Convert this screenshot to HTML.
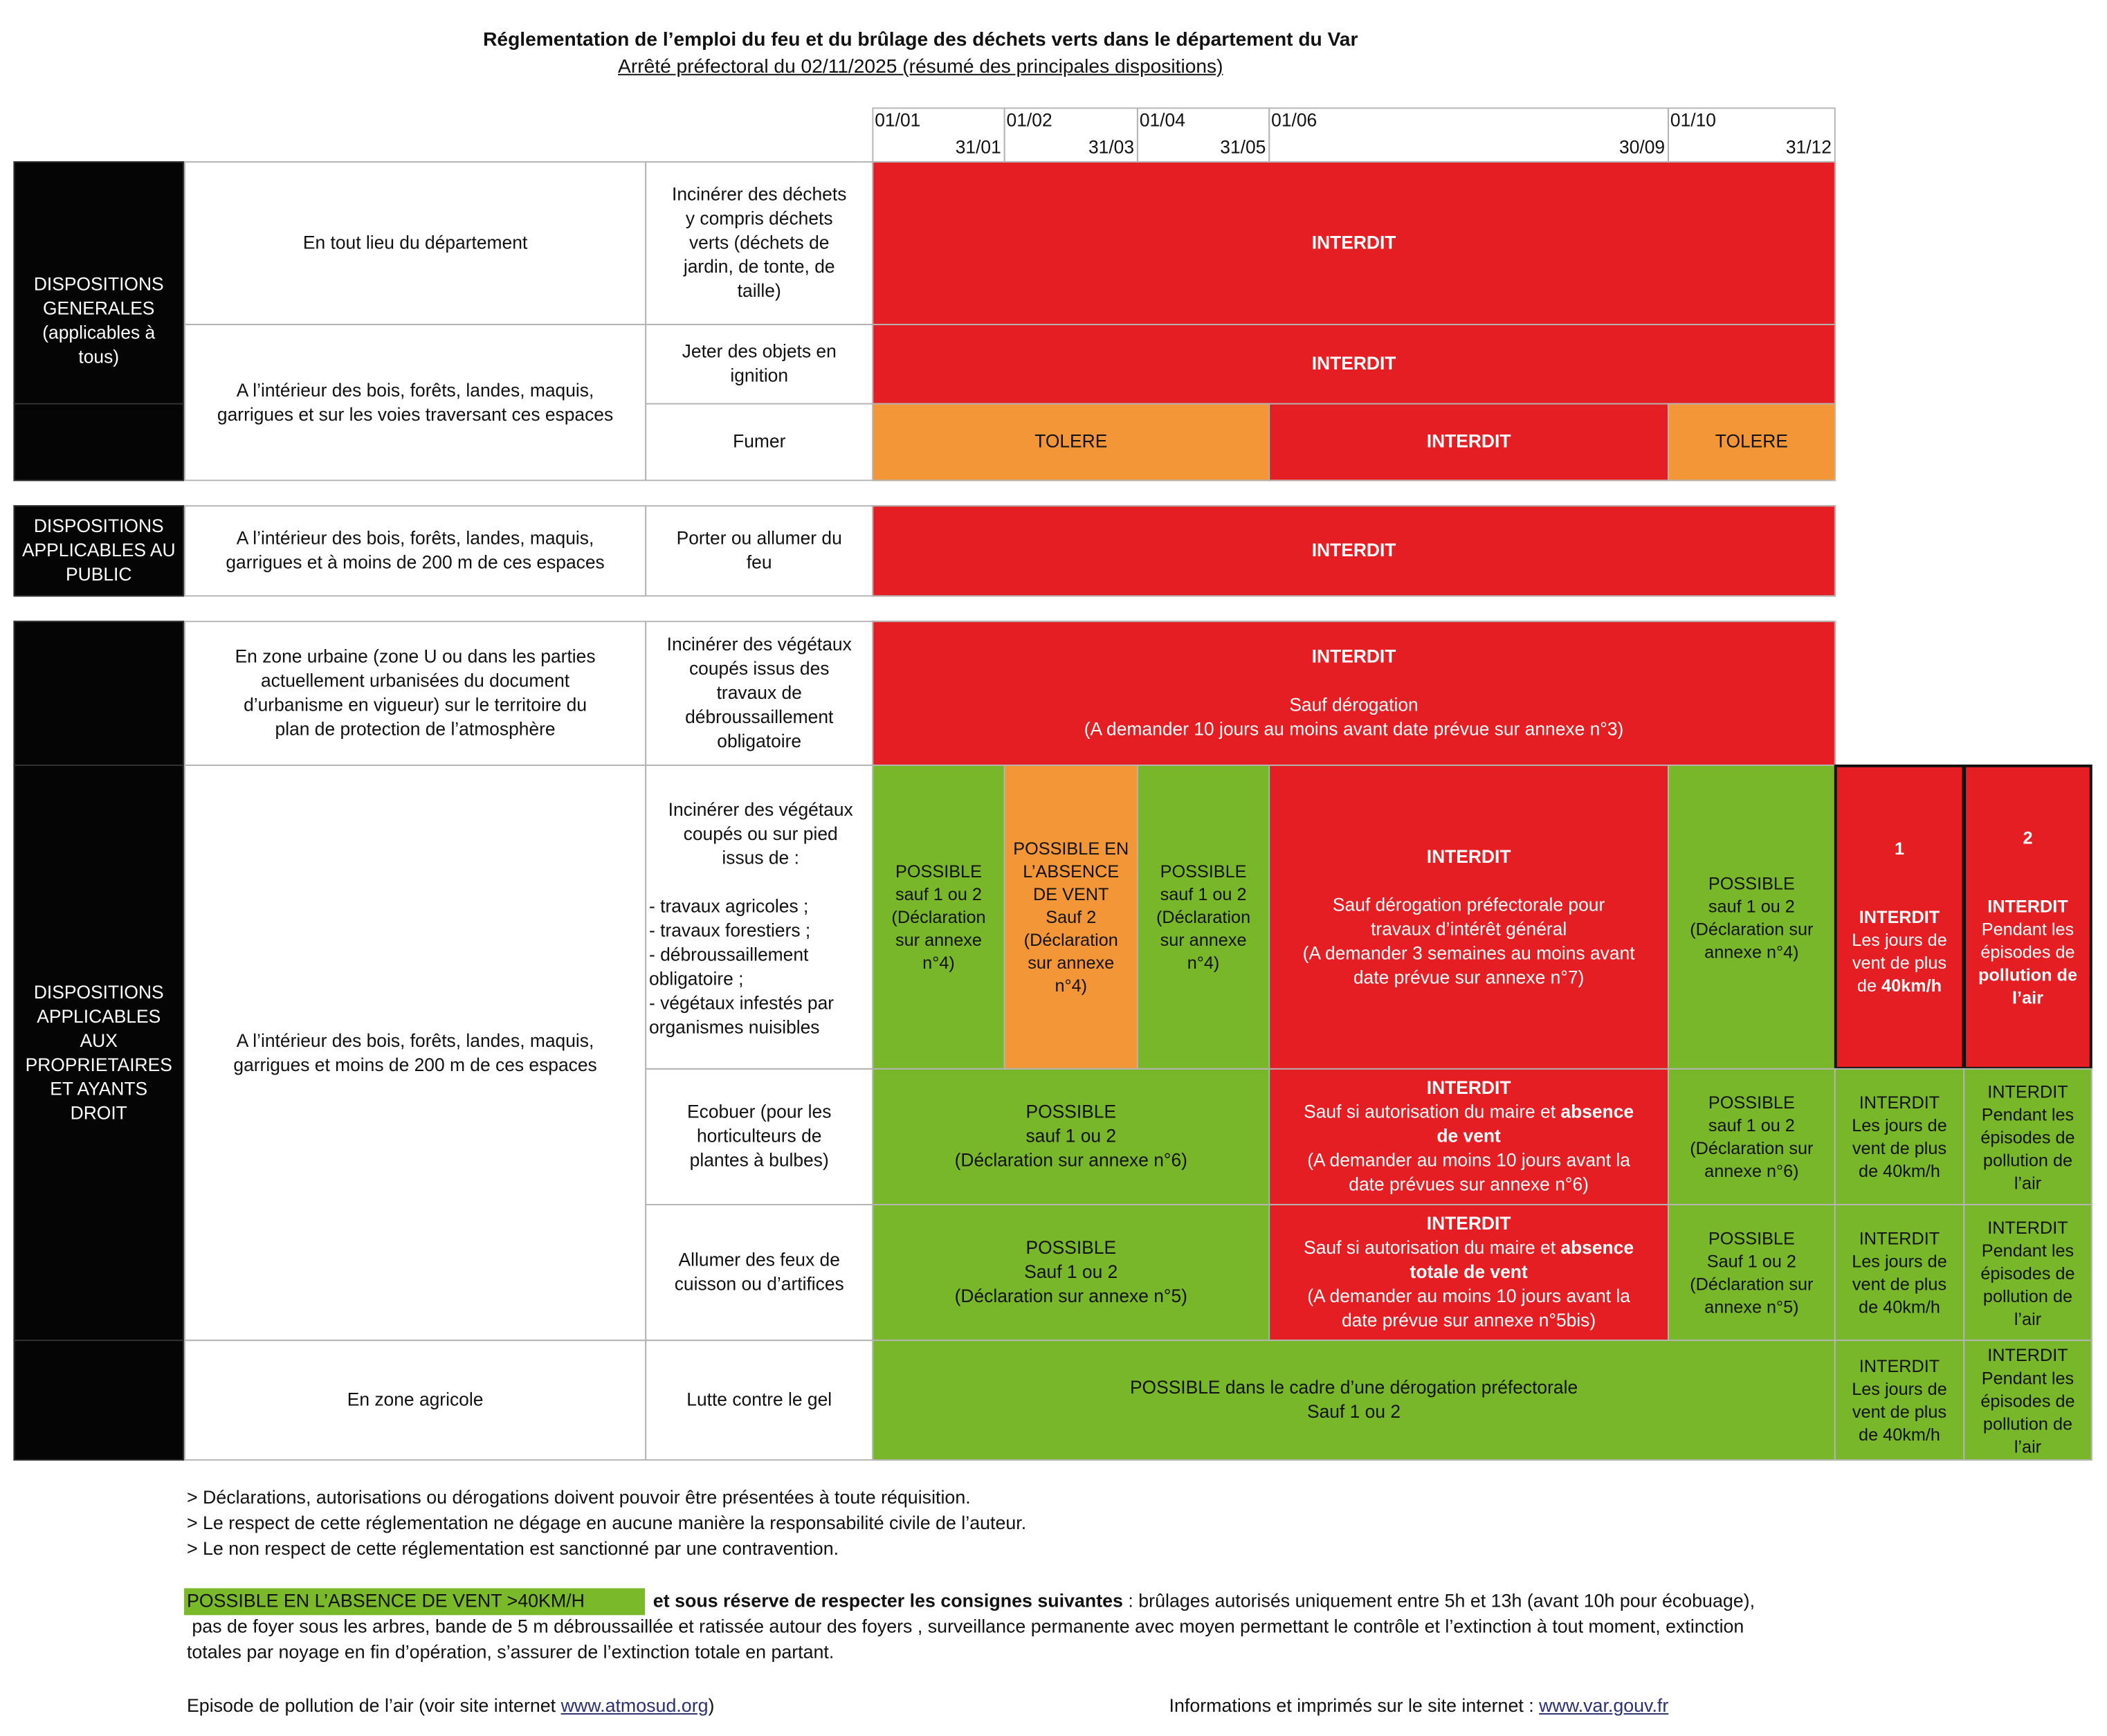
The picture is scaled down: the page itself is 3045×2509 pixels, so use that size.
<!DOCTYPE html>
<html><head><meta charset="utf-8">
<style>
html,body{margin:0;padding:0;background:#fff;}
body{width:3045px;height:2509px;overflow:hidden;position:relative;}
#w{position:absolute;left:0;top:0;width:1568px;height:1292px;transform:scale(1.9420);transform-origin:0 0;font-family:"Liberation Sans",sans-serif;font-size:13.6px;line-height:18px;color:#111;}
.c{position:absolute;box-sizing:border-box;border:1px solid #b5b5b5;display:flex;align-items:center;justify-content:center;text-align:center;}
.k{background:#050505;color:#fff;border-color:#333;}
.r{background:#e41e22;color:#fff;}
.o{background:#f29638;color:#111;}
.g{background:#78b72a;color:#111;}
.bb{border:2px solid #111;}
.t{position:absolute;white-space:nowrap;}
b{font-weight:bold;}
.lbl{position:absolute;font-size:13.6px;}
</style></head><body><div id="w">
<div class="t" style="left:0;width:1370px;top:21px;text-align:center;font-weight:bold;font-size:14.5px;">Réglementation de l’emploi du feu et du brûlage des déchets verts dans le département du Var</div>
<div class="t" style="left:0;width:1370px;top:41px;text-align:center;font-size:14.5px;text-decoration:underline;">Arrêté préfectoral du 02/11/2025 (résumé des principales dispositions)</div>

<div class="c" style="left:649px;top:80px;width:99px;height:41px;"></div>
<div class="c" style="left:747px;top:80px;width:100px;height:41px;"></div>
<div class="c" style="left:846px;top:80px;width:99px;height:41px;"></div>
<div class="c" style="left:944px;top:80px;width:298px;height:41px;"></div>
<div class="c" style="left:1241px;top:80px;width:125px;height:41px;"></div>
<div class="lbl" style="left:651px;top:81px;">01/01</div>
<div class="lbl" style="left:749px;top:81px;">01/02</div>
<div class="lbl" style="left:848px;top:81px;">01/04</div>
<div class="lbl" style="left:946px;top:81px;">01/06</div>
<div class="lbl" style="left:1243px;top:81px;">01/10</div>
<div class="lbl" style="left:697px;width:48px;text-align:right;top:101px;">31/01</div>
<div class="lbl" style="left:795px;width:49px;text-align:right;top:101px;">31/03</div>
<div class="lbl" style="left:893px;width:49px;text-align:right;top:101px;">31/05</div>
<div class="lbl" style="left:1190px;width:49px;text-align:right;top:101px;">30/09</div>
<div class="lbl" style="left:1314px;width:49px;text-align:right;top:101px;">31/12</div>

<div class="c k" style="left:10px;top:120px;width:127px;height:181px;"><div style="margin-top:56px;">DISPOSITIONS<br>GENERALES<br>(applicables à<br>tous)</div></div>
<div class="c k" style="left:10px;top:300px;width:127px;height:58px;"></div>
<div class="c" style="left:137px;top:120px;width:344px;height:122px;">En tout lieu du département</div>
<div class="c" style="left:137px;top:241px;width:344px;height:117px;">A l’intérieur des bois, forêts, landes, maquis,<br>garrigues et sur les voies traversant ces espaces</div>
<div class="c" style="left:480px;top:120px;width:170px;height:122px;">Incinérer des déchets<br>y compris déchets<br>verts (déchets de<br>jardin, de tonte, de<br>taille)</div>
<div class="c" style="left:480px;top:241px;width:170px;height:60px;">Jeter des objets en<br>ignition</div>
<div class="c" style="left:480px;top:300px;width:170px;height:58px;">Fumer</div>
<div class="c r" style="left:649px;top:120px;width:717px;height:122px;"><b>INTERDIT</b></div>
<div class="c r" style="left:649px;top:241px;width:717px;height:60px;"><b>INTERDIT</b></div>
<div class="c o" style="left:649px;top:300px;width:296px;height:58px;">TOLERE</div>
<div class="c r" style="left:944px;top:300px;width:298px;height:58px;"><b>INTERDIT</b></div>
<div class="c o" style="left:1241px;top:300px;width:125px;height:58px;">TOLERE</div>

<div class="c k" style="left:10px;top:376px;width:127px;height:68px;">DISPOSITIONS<br>APPLICABLES AU<br>PUBLIC</div>
<div class="c" style="left:137px;top:376px;width:344px;height:68px;">A l’intérieur des bois, forêts, landes, maquis,<br>garrigues et à moins de 200 m de ces espaces</div>
<div class="c" style="left:480px;top:376px;width:170px;height:68px;">Porter ou allumer du<br>feu</div>
<div class="c r" style="left:649px;top:376px;width:717px;height:68px;"><b>INTERDIT</b></div>

<div class="c k" style="left:10px;top:462px;width:127px;height:108px;"></div>
<div class="c k" style="left:10px;top:569px;width:127px;height:429px;">DISPOSITIONS<br>APPLICABLES<br>AUX<br>PROPRIETAIRES<br>ET AYANTS<br>DROIT</div>
<div class="c k" style="left:10px;top:997px;width:127px;height:90px;"></div>

<div class="c" style="left:137px;top:462px;width:344px;height:108px;">En zone urbaine (zone U ou dans les parties<br>actuellement urbanisées du document<br>d’urbanisme en vigueur) sur le territoire du<br>plan de protection de l’atmosphère</div>
<div class="c" style="left:137px;top:569px;width:344px;height:429px;">A l’intérieur des bois, forêts, landes, maquis,<br>garrigues et moins de 200 m de ces espaces</div>
<div class="c" style="left:137px;top:997px;width:344px;height:90px;">En zone agricole</div>

<div class="c" style="left:480px;top:462px;width:170px;height:108px;">Incinérer des végétaux<br>coupés issus des<br>travaux de<br>débroussaillement<br>obligatoire</div>
<div class="c" style="left:480px;top:569px;width:170px;height:227px;display:block;text-align:left;padding:24px 0 0 2px;"><div style="text-align:center;">Incinérer des végétaux<br>coupés ou sur pied<br>issus de :</div><br>- travaux agricoles ;<br>- travaux forestiers ;<br>- débroussaillement<br>obligatoire ;<br>- végétaux infestés par<br>organismes nuisibles</div>
<div class="c" style="left:480px;top:795px;width:170px;height:102px;">Ecobuer (pour les<br>horticulteurs de<br>plantes à bulbes)</div>
<div class="c" style="left:480px;top:896px;width:170px;height:102px;">Allumer des feux de<br>cuisson ou d’artifices</div>
<div class="c" style="left:480px;top:997px;width:170px;height:90px;">Lutte contre le gel</div>

<div class="c r" style="left:649px;top:462px;width:717px;height:108px;"><div><b>INTERDIT</b><br><br>Sauf dérogation<br>(A demander 10 jours au moins avant date prévue sur annexe n°3)</div></div>

<div class="c g" style="left:649px;top:569px;width:99px;height:227px;font-size:13px;line-height:17px;">POSSIBLE<br>sauf 1 ou 2<br>(Déclaration<br>sur annexe<br>n°4)</div>
<div class="c o" style="left:747px;top:569px;width:100px;height:227px;font-size:13px;line-height:17px;">POSSIBLE EN<br>L’ABSENCE<br>DE VENT<br>Sauf 2<br>(Déclaration<br>sur annexe<br>n°4)</div>
<div class="c g" style="left:846px;top:569px;width:99px;height:227px;font-size:13px;line-height:17px;">POSSIBLE<br>sauf 1 ou 2<br>(Déclaration<br>sur annexe<br>n°4)</div>
<div class="c r" style="left:944px;top:569px;width:298px;height:227px;"><div><b>INTERDIT</b><br><br>Sauf dérogation préfectorale pour<br>travaux d’intérêt général<br>(A demander 3 semaines au moins avant<br>date prévue sur annexe n°7)</div></div>
<div class="c g" style="left:1241px;top:569px;width:125px;height:227px;font-size:13px;line-height:17px;">POSSIBLE<br>sauf 1 ou 2<br>(Déclaration sur<br>annexe n°4)</div>
<div class="c r bb" style="left:1365px;top:569px;width:97px;height:227px;font-size:13px;line-height:17px;"><div><b>1</b><br><br><br><b>INTERDIT</b><br>Les jours de<br>vent de plus<br>de <b>40km/h</b></div></div>
<div class="c r bb" style="left:1461px;top:569px;width:96px;height:227px;font-size:13px;line-height:17px;"><div><b>2</b><br><br><br><b>INTERDIT</b><br>Pendant les<br>épisodes de<br><b>pollution de<br>l’air</b></div></div>

<div class="c g" style="left:649px;top:795px;width:296px;height:102px;">POSSIBLE<br>sauf 1 ou 2<br>(Déclaration sur annexe n°6)</div>
<div class="c r" style="left:944px;top:795px;width:298px;height:102px;"><div><b>INTERDIT</b><br>Sauf si autorisation du maire et <b>absence<br>de vent</b><br>(A demander au moins 10 jours avant la<br>date prévues sur annexe n°6)</div></div>
<div class="c g" style="left:1241px;top:795px;width:125px;height:102px;font-size:13px;line-height:17px;">POSSIBLE<br>sauf 1 ou 2<br>(Déclaration sur<br>annexe n°6)</div>
<div class="c g" style="left:1365px;top:795px;width:97px;height:102px;font-size:13px;line-height:17px;">INTERDIT<br>Les jours de<br>vent de plus<br>de 40km/h</div>
<div class="c g" style="left:1461px;top:795px;width:96px;height:102px;font-size:13px;line-height:17px;">INTERDIT<br>Pendant les<br>épisodes de<br>pollution de<br>l’air</div>

<div class="c g" style="left:649px;top:896px;width:296px;height:102px;">POSSIBLE<br>Sauf 1 ou 2<br>(Déclaration sur annexe n°5)</div>
<div class="c r" style="left:944px;top:896px;width:298px;height:102px;"><div><b>INTERDIT</b><br>Sauf si autorisation du maire et <b>absence<br>totale de vent</b><br>(A demander au moins 10 jours avant la<br>date prévue sur annexe n°5bis)</div></div>
<div class="c g" style="left:1241px;top:896px;width:125px;height:102px;font-size:13px;line-height:17px;">POSSIBLE<br>Sauf 1 ou 2<br>(Déclaration sur<br>annexe n°5)</div>
<div class="c g" style="left:1365px;top:896px;width:97px;height:102px;font-size:13px;line-height:17px;">INTERDIT<br>Les jours de<br>vent de plus<br>de 40km/h</div>
<div class="c g" style="left:1461px;top:896px;width:96px;height:102px;font-size:13px;line-height:17px;">INTERDIT<br>Pendant les<br>épisodes de<br>pollution de<br>l’air</div>

<div class="c g" style="left:649px;top:997px;width:717px;height:90px;">POSSIBLE dans le cadre d’une dérogation préfectorale<br>Sauf 1 ou 2</div>
<div class="c g" style="left:1365px;top:997px;width:97px;height:90px;font-size:13px;line-height:17px;">INTERDIT<br>Les jours de<br>vent de plus<br>de 40km/h</div>
<div class="c g" style="left:1461px;top:997px;width:96px;height:90px;font-size:13px;line-height:17px;">INTERDIT<br>Pendant les<br>épisodes de<br>pollution de<br>l’air</div>

<div class="t" style="left:139px;top:1105px;line-height:19px;font-size:13.8px;">&gt; Déclarations, autorisations ou dérogations doivent pouvoir être présentées à toute réquisition.<br>&gt; Le respect de cette réglementation ne dégage en aucune manière la responsabilité civile de l’auteur.<br>&gt; Le non respect de cette réglementation est sanctionné par une contravention.</div>
<div class="t" style="left:137px;top:1182px;width:343px;height:20px;background:#7ab929;line-height:20px;font-size:13.8px;padding-left:2px;box-sizing:border-box;">POSSIBLE EN L’ABSENCE DE VENT &gt;40KM/H</div>
<div class="t" style="left:486px;top:1182px;line-height:20px;font-size:13.8px;"><b>et sous réserve de respecter les consignes suivantes</b> : brûlages autorisés uniquement entre 5h et 13h (avant 10h pour écobuage),</div>
<div class="t" style="left:139px;top:1201px;line-height:19px;font-size:13.8px;">&nbsp;pas de foyer sous les arbres, bande de 5 m débroussaillée et ratissée autour des foyers , surveillance permanente avec moyen permettant le contrôle et l’extinction à tout moment, extinction<br>totales par noyage en fin d’opération, s’assurer de l’extinction totale en partant.</div>
<div class="t" style="left:139px;top:1260px;line-height:19px;font-size:13.8px;">Episode de pollution de l’air (voir site internet <span style="color:#2b3170;text-decoration:underline;">www.atmosud.org</span>)</div>
<div class="t" style="left:870px;top:1260px;line-height:19px;font-size:13.8px;">Informations et imprimés sur le site internet : <span style="color:#2b3170;text-decoration:underline;">www.var.gouv.fr</span></div>
</div></body></html>
